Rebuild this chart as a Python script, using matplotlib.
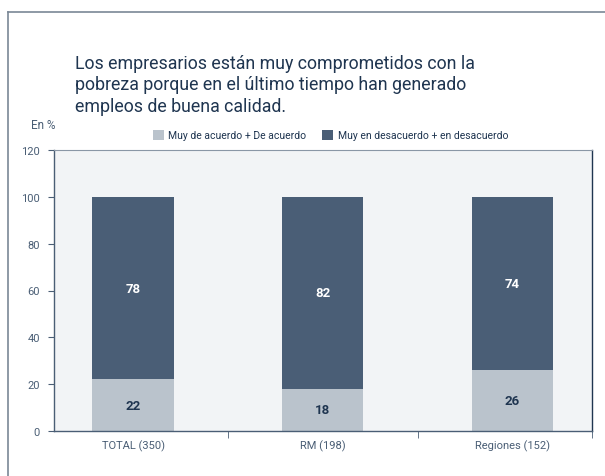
import matplotlib.pyplot as plt
from matplotlib.lines import Line2D
from matplotlib.patches import Patch

plt.rcParams['font.family'] = ['Roboto', 'DejaVu Sans']

categories = ['TOTAL (350)', 'RM (198)', 'Regiones (152)']
acuerdo = [22, 18, 26]
desacuerdo = [78, 82, 74]
legend_labels = ['Muy de acuerdo + De acuerdo', 'Muy en desacuerdo + en desacuerdo']
title = ('Los empresarios están muy comprometidos con la\n'
         'pobreza porque en el último tiempo han generado\n'
         'empleos de buena calidad.')

light = '#bac3cc'
dark = '#4a5e76'
navy = '#1f3550'
axis_col = '#4a5e75'

fig = plt.figure(figsize=(6.05, 4.77), dpi=100)
ax = fig.add_axes([54 / 605, 1 - 432 / 477, (592 - 54) / 605, (432 - 151) / 477])
ax.set_facecolor('#f2f4f6')

x = list(range(len(categories)))
w = 0.43
ax.bar(x, acuerdo, width=w, color=light, zorder=2)
ax.bar(x, desacuerdo, width=w, bottom=acuerdo, color=dark, zorder=2)

for i in x:
    ax.text(i, acuerdo[i] / 2, str(acuerdo[i]), ha='center', va='center',
            color=navy, fontsize=9.5, fontweight='bold')
    ax.text(i, acuerdo[i] + desacuerdo[i] / 2, str(desacuerdo[i]), ha='center',
            va='center', color='white', fontsize=9.5, fontweight='bold')

ax.set_xlim(-0.417, 2.42)
ax.set_ylim(0, 120)
ax.set_yticks(range(0, 121, 20))
ax.set_xticks(x)
ax.set_xticklabels(categories)
ax.set_xticks([0.5, 1.5, 2.42], minor=True)
ax.tick_params(axis='x', which='major', length=0, pad=6, labelsize=8, colors=axis_col)
ax.tick_params(axis='x', which='minor', length=5, direction='out', color=axis_col)
ax.tick_params(axis='y', length=4, direction='out', labelsize=8, colors=axis_col, pad=6)
for s in ['left', 'bottom']:
    ax.spines[s].set_color(axis_col)
    ax.spines[s].set_linewidth(1.0)
ax.spines['right'].set_color(navy)
ax.spines['right'].set_linewidth(1.0)
ax.spines['top'].set_color('#8a97a6')
ax.spines['top'].set_linewidth(0.8)

fig.text(75 / 605, 1 - 55 / 477, title, ha='left', va='top', fontsize=12.8,
         color=navy, linespacing=1.25)
fig.text(31 / 605, 1 - 126 / 477, 'En %', ha='left', va='center', fontsize=8.5,
         color=axis_col)

handles = [Patch(facecolor=light), Patch(facecolor=dark)]
fig.legend(handles, legend_labels, loc='center right', ncol=2, frameon=False,
           bbox_to_anchor=(508 / 605, 1 - 136 / 477), fontsize=7.5,
           handlelength=1.1, handleheight=1.1, handletextpad=0.4,
           columnspacing=1.5, labelcolor=navy, borderpad=0, borderaxespad=0)

# frame around the chart (top and left)
fig.add_artist(Line2D([8 / 605, 1], [1 - 13 / 477, 1 - 13 / 477], color='#7a8796', lw=1.2))
fig.add_artist(Line2D([8 / 605, 8 / 605], [0, 1 - 13 / 477], color='#7a8796', lw=1.2))

fig.savefig('out.png', dpi=100)
